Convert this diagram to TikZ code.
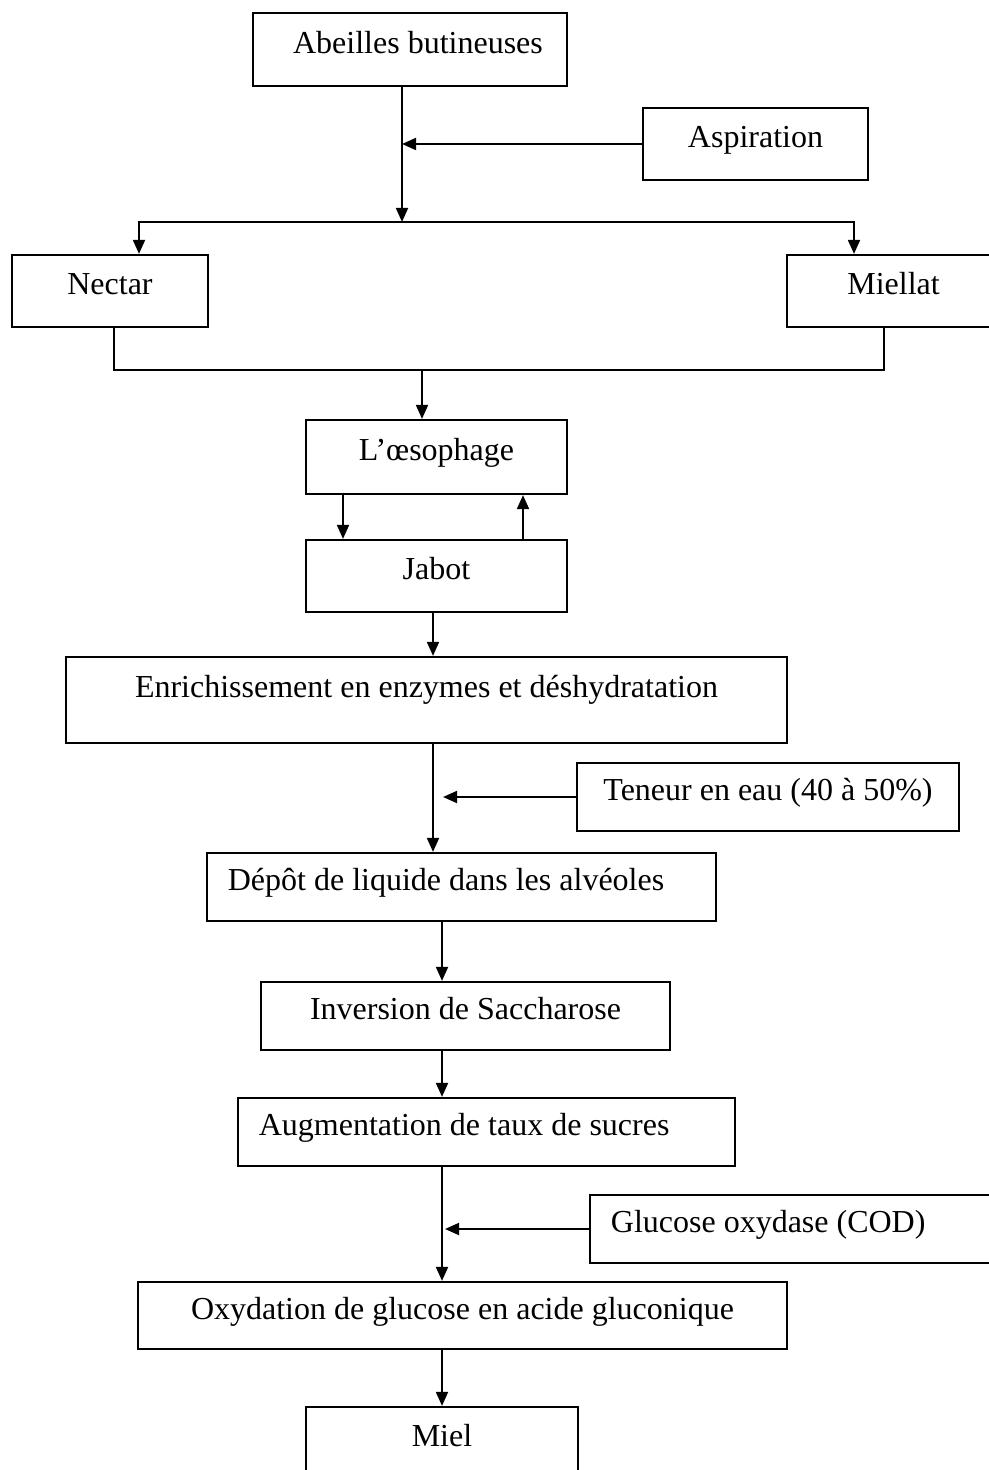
\documentclass[tikz,border=0pt]{standalone}
\usepackage{fontspec}
\setmainfont{Liberation Serif}
\usepackage{tikz}
\usetikzlibrary{arrows.meta,calc}

\tikzset{
  box/.style={draw, line width=0.6pt, inner sep=0pt, text height=0.7em, text depth=0.17cm},
  lbox/.style={box, inner xsep=0.21cm, align=flush left},
  flow/.style={line width=0.6pt, -{Triangle[length=4pt,width=3.4pt]}},
  link/.style={line width=0.6pt}
}

\begin{document}
\begin{tikzpicture}[x=0.01cm, y=-0.01cm, font=\fontsize{9.1}{11}\selectfont]
\useasboundingbox (0,0) rectangle (989,1470);
\clip (0,0) rectangle (989,1470);
\node (abeilles) [box, minimum width=3.14cm, minimum height=0.73cm] at (410,49.5) {\hspace{0.16cm}Abeilles butineuses};
\node (aspiration) [box, minimum width=2.25cm, minimum height=0.72cm] at (755.5,144) {Aspiration};
\node (nectar) [box, minimum width=1.96cm, minimum height=0.72cm] at (110,291) {Nectar};
\node (miellat) [box, minimum width=2.13cm, minimum height=0.72cm] at (893.5,291) {Miellat};
\node (oesophage) [box, minimum width=2.61cm, minimum height=0.74cm] at (436.5,457) {L’œsophage};
\node (jabot) [box, minimum width=2.61cm, minimum height=0.72cm] at (436.5,576) {Jabot};
\node (enrich) [box, text depth=0.3cm, minimum width=7.21cm, minimum height=0.86cm] at (426.5,700) {Enrichissement en enzymes et déshydratation};
\node (teneur) [box, minimum width=3.82cm, minimum height=0.68cm] at (768,797) {Teneur en eau (40 à 50\%)};
\node (depot) [lbox, text width=4.67cm, minimum height=0.68cm] at (461.5,887) {Dépôt de liquide dans les alvéoles};
\node (inversion) [box, minimum width=4.09cm, minimum height=0.68cm] at (465.5,1016) {Inversion de Saccharose};
\node (augment) [lbox, text width=4.55cm, minimum height=0.68cm] at (486.5,1132) {Augmentation de taux de sucres};
\node (glucose) [lbox, text width=3.78cm, minimum height=0.68cm] at (800,1229) {Glucose oxydase (COD)};
\node (oxydation) [box, minimum width=6.49cm, minimum height=0.67cm] at (462.5,1315.5) {Oxydation de glucose en acide gluconique};
\node (miel) [box, minimum width=2.72cm, minimum height=0.72cm] at (442,1443) {Miel};

\coordinate (split) at (402,222);
\coordinate (merge) at (422,370);

\draw [flow] (abeilles.south -| split) -- (split);
\draw [flow] (aspiration.west) -- (aspiration.west -| split);
\draw [flow] (split) -| ($(nectar.north)+(29,0)$);
\draw [flow] (split) -| ($(miellat.north)+(-39.5,0)$);
\draw [link] ($(nectar.south)+(4,0)$) |- (merge);
\draw [link] ($(miellat.south)+(-9.5,0)$) |- (merge);
\draw [flow] (merge) -- (merge |- oesophage.north);
\draw [flow] ($(oesophage.south)+(-93.5,0)$) -- ($(jabot.north)+(-93.5,0)$);
\draw [flow] ($(jabot.north)+(86.5,0)$) -- ($(oesophage.south)+(86.5,0)$);
\draw [flow] ($(jabot.south)+(-3.5,0)$) -- ($(jabot.south |- enrich.north)+(-3.5,0)$);
\draw [flow] ($(enrich.south)+(6.5,0)$) -- ($(enrich.south |- depot.north)+(6.5,0)$);
\draw [flow, shorten >=0.1cm] (teneur.west) -- ($(teneur.west -| enrich.south)+(6.5,0)$);
\draw [flow] (depot.south -| miel.north) -- (inversion.north -| miel.north);
\draw [flow] (inversion.south -| miel.north) -- (augment.north -| miel.north);
\draw [flow] (augment.south -| miel.north) -- (oxydation.north -| miel.north);
\draw [flow, shorten >=0.03cm] (glucose.west) -- (glucose.west -| miel.north);
\draw [flow] (oxydation.south -| miel.north) -- (miel.north);
\end{tikzpicture}
\end{document}
